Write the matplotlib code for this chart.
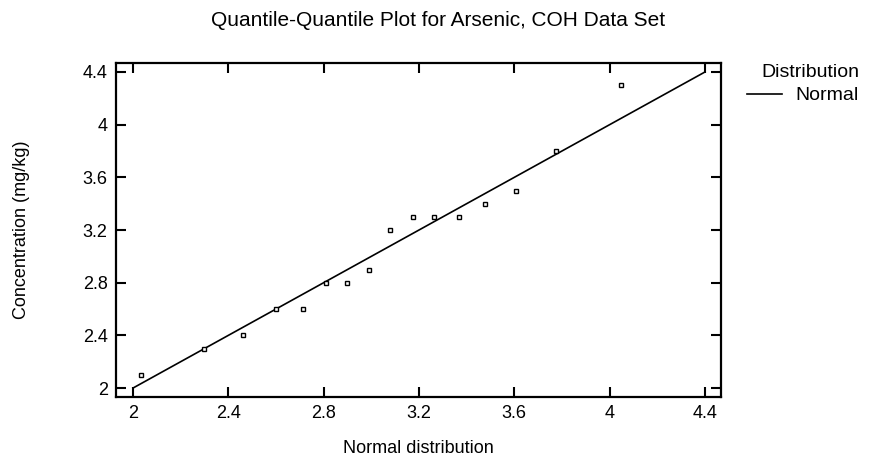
import numpy as np
import matplotlib.pyplot as plt
from matplotlib.lines import Line2D

plt.rcParams['font.family'] = ['Liberation Sans', 'DejaVu Sans']

# theoretical normal quantiles vs observed arsenic concentrations
normal_q = [2.034, 2.298, 2.46, 2.60, 2.713, 2.81, 2.90, 2.99,
            3.078, 3.174, 3.262, 3.367, 3.476, 3.606, 3.774, 4.047]
conc = [2.1, 2.3, 2.4, 2.6, 2.6, 2.8, 2.8, 2.9,
        3.2, 3.3, 3.3, 3.3, 3.4, 3.5, 3.8, 4.3]
ref_line = [2.0, 4.4]
ticks = [2, 2.4, 2.8, 3.2, 3.6, 4, 4.4]
tick_labels = ['2', '2.4', '2.8', '3.2', '3.6', '4', '4.4']

fig = plt.figure(figsize=(8.77, 4.66), dpi=100)
ax = fig.add_axes([0.1323, 0.148, 0.6898, 0.7168])

ax.plot(ref_line, ref_line, color='black', lw=1.2)
ax.plot(normal_q, conc, ls='none', marker='s', ms=3.5, mfc='white',
        mec='black', mew=1.0)

ax.set_xlim(1.929, 4.467)
ax.set_ylim(1.932, 4.468)
ax.set_xticks(ticks)
ax.set_xticklabels(tick_labels)
ax.set_yticks(ticks)
ax.set_yticklabels(tick_labels)
ax.tick_params(direction='in', length=7, width=1.5, labelsize=13,
               top=True, right=True, pad=6)
for s in ax.spines.values():
    s.set_linewidth(1.6)

ax.set_xlabel('Normal distribution', fontsize=13)
ax.xaxis.set_label_coords(0.5, -0.128)
ax.set_ylabel('Concentration (mg/kg)', fontsize=13)
ax.yaxis.set_label_coords(-0.143, 0.5)
fig.text(0.5, 1 - 20 / 466, 'Quantile-Quantile Plot for Arsenic, COH Data Set',
         fontsize=15, ha='center', va='center')

handles = [Line2D([0], [0], color='black', lw=1.2)]
leg = fig.legend(handles, ['Normal'], title='Distribution', frameon=False,
                 loc='upper right', bbox_to_anchor=(859 / 877, 1 - 64 / 466),
                 fontsize=14, title_fontsize=14, handlelength=1.8,
                 handletextpad=0.7, borderaxespad=0, borderpad=0,
                 labelspacing=0.3)
leg._legend_box.align = 'right'

fig.savefig('out.png', dpi=100)
